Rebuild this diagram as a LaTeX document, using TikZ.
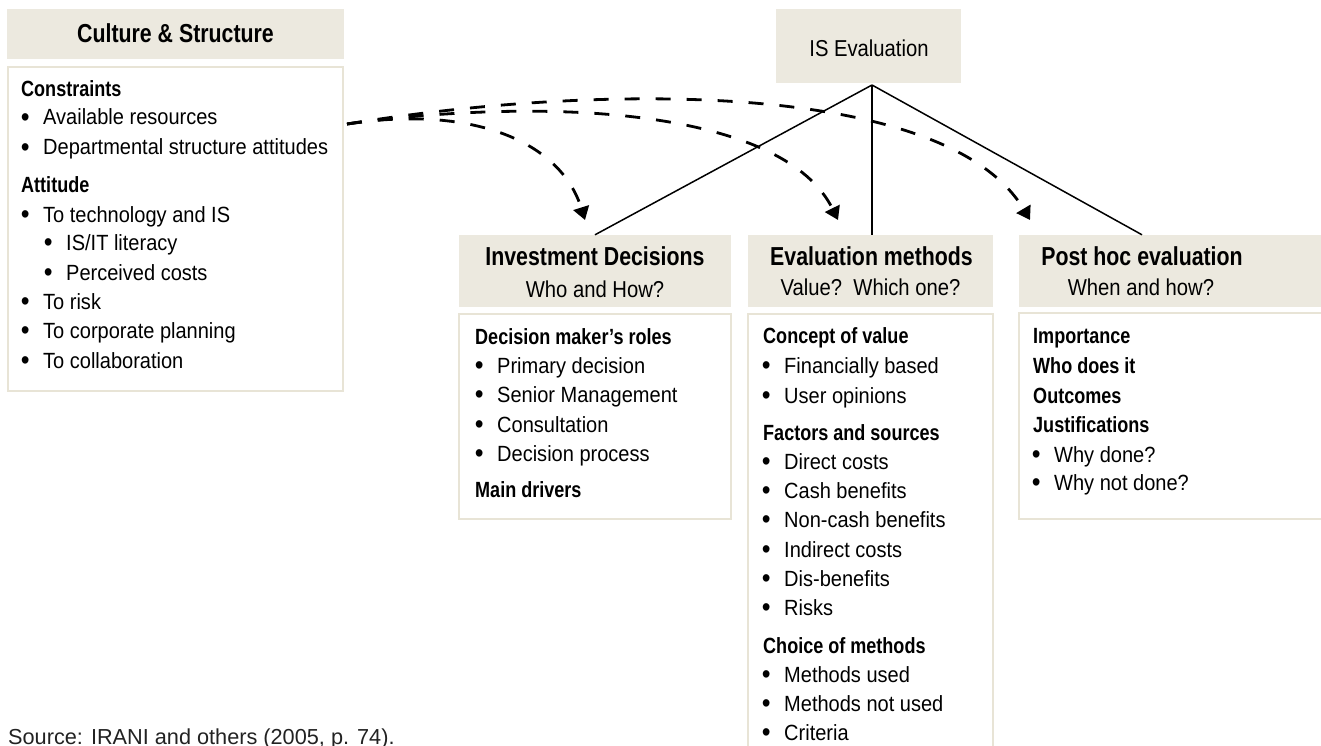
\documentclass[tikz,border=0pt]{standalone}
\usepackage{fontspec}
\setmainfont{Liberation Sans}
\newfontfamily\rgf{Liberation Sans}[FakeStretch=0.91]
\newfontfamily\bdf{Liberation Sans Bold}[FakeStretch=0.82]
\newfontfamily\hrgf{Liberation Sans}[FakeStretch=0.88]
\usetikzlibrary{arrows.meta}
\definecolor{hdrfill}{HTML}{ECE9DF}
\definecolor{bordercol}{HTML}{E8E4D6}
\definecolor{srcgray}{HTML}{222222}
\newcommand\bodyf{\fontsize{22}{26}\selectfont\rgf}
\newcommand\bodybf{\fontsize{22}{26}\selectfont\bdf}
\newcommand\hdbf{\fontsize{26}{30}\selectfont\bdf}
\newcommand\hdrf{\fontsize{23}{27}\selectfont\hrgf}
\newcommand\mybul{\llap{\raisebox{-1.5pt}{\scalebox{1.25}{\textbullet}}\hspace{13.5pt}}}
\begin{document}
\begin{tikzpicture}[x=1pt,y=-1pt,
  hbox/.style={fill=hdrfill, draw=none, inner sep=0pt},
  bbox/.style={draw=bordercol, line width=2pt, fill=white, inner sep=0pt},
  ht/.style={anchor=base, inner sep=0pt, font=\hdbf},
  hr/.style={anchor=base, inner sep=0pt, font=\hdrf},
  tx/.style={anchor=base west, inner sep=0pt, font=\bodyf},
  hd/.style={tx, font=\bodybf},
  bl/.style={tx, execute at begin node={\mybul}},
  link/.style={line width=1.5pt, black},
  flow/.style={line width=2.8pt, dash pattern=on 15pt off 16pt, -{Triangle[length=13pt,width=16pt]}}
]
\useasboundingbox (0,0) rectangle (1321,746);
\clip (0,0) rectangle (1321,746);

% ---------- Culture & Structure ----------
\node[hbox, minimum width=337pt, minimum height=50pt] (cs) at (175.5,34) {};
\node[ht] (cst) at (175.5,43) {Culture \& Structure};
\node[bbox, minimum width=335pt, minimum height=324pt] (csb) at (175.5,229) {};
\node[hd] (c1) at (21,97) {Constraints};
\node[bl] (c2) at (43,125) {Available resources};
\node[bl] (c3) at (43,155) {Departmental structure attitudes};
\node[hd] (c4) at (21,193) {Attitude};
\node[bl] (c5) at (43,222) {To technology and IS};
\node[bl] (c6) at (66,250) {IS/IT literacy};
\node[bl] (c7) at (66,280) {Perceived costs};
\node[bl] (c8) at (43,309) {To risk};
\node[bl] (c9) at (43,338) {To corporate planning};
\node[bl] (c10) at (43,368) {To collaboration};

% ---------- IS Evaluation ----------
\node[hbox, minimum width=185pt, minimum height=74pt] (isev) at (868.5,46) {};
\node[hr] (isevt) at (869,57) {IS Evaluation};
\coordinate (apex) at (872,85);

% ---------- Investment Decisions ----------
\node[hbox, minimum width=272pt, minimum height=72pt] (inv) at (595,271) {};
\node[ht] (invt1) at (595,265) {Investment Decisions};
\node[hr] (invt2) at (595,297) {Who and How?};
\node[bbox, minimum width=272pt, minimum height=205pt] (invb) at (595,416.5) {};
\node[hd] (i1) at (475,344) {Decision maker’s roles};
\node[bl] (i2) at (497,373) {Primary decision};
\node[bl] (i3) at (497,402) {Senior Management};
\node[bl] (i4) at (497,432) {Consultation};
\node[bl] (i5) at (497,461) {Decision process};
\node[hd] (i6) at (475,497) {Main drivers};

% ---------- Evaluation methods ----------
\node[hbox, minimum width=245pt, minimum height=72pt] (evm) at (870.5,271) {};
\node[ht] (evmt1) at (871.5,265) {Evaluation methods};
\node[hr] (evmt2) at (870.5,295) {Value?\ \ Which one?};
\node[bbox, minimum width=245pt, minimum height=456pt] (evb) at (870.5,542) {};
\node[hd] (e1) at (763,343) {Concept of value};
\node[bl] (e2) at (784,373) {Financially based};
\node[bl] (e3) at (784,403) {User opinions};
\node[hd] (e4) at (763,440) {Factors and sources};
\node[bl] (e5) at (784,469) {Direct costs};
\node[bl] (e6) at (784,498) {Cash benefits};
\node[bl] (e7) at (784,527) {Non-cash benefits};
\node[bl] (e8) at (784,557) {Indirect costs};
\node[bl] (e9) at (784,586) {Dis-benefits};
\node[bl] (e10) at (784,615) {Risks};
\node[hd] (e11) at (763,653) {Choice of methods};
\node[bl] (e12) at (784,682) {Methods used};
\node[bl] (e13) at (784,711) {Methods not used};
\node[bl] (e14) at (784,740) {Criteria};

% ---------- Post hoc evaluation ----------
\fill[hdrfill] (1019,235) rectangle (1335,307);
\node[inner sep=0pt, minimum width=246pt, minimum height=72pt] (phe) at (1142,271) {};
\node[ht] (phet1) at (1142,265) {Post hoc evaluation};
\node[hr] (phet2) at (1141,295) {When and how?};
\node[bbox, minimum width=316pt, minimum height=206pt] (phb) at (1177,416) {};
\node[hd] (p1) at (1033,343) {Importance};
\node[hd] (p2) at (1033,373) {Who does it};
\node[hd] (p3) at (1033,403) {Outcomes};
\node[hd] (p4) at (1033,432) {Justifications};
\node[bl] (p5) at (1054,462) {Why done?};
\node[bl] (p6) at (1054,490) {Why not done?};

% ---------- Source ----------
\node[tx, font=\fontsize{21.7}{25}\selectfont, text=srcgray] (src) at (8,744) {Source: IRANI and others (2005, p. 74).};

% ---------- connectors ----------
\draw[link] (apex) -- (inv.north);
\draw[link] (apex) -- (apex |- evm.north);
\draw[link] (apex) -- (phe.north);

\coordinate (from) at (347,124);
\coordinate (to1) at (585,220);
\coordinate (to2) at (838,220);
\coordinate (to3) at (1030,220);
\draw[flow] (from) .. controls (470,105) and (560,140) .. (to1);
\draw[flow] (from) .. controls (560,95) and (785,112) .. (to2);
\draw[flow] (from) .. controls (620,80) and (950,85) .. (to3);
\end{tikzpicture}
\end{document}
